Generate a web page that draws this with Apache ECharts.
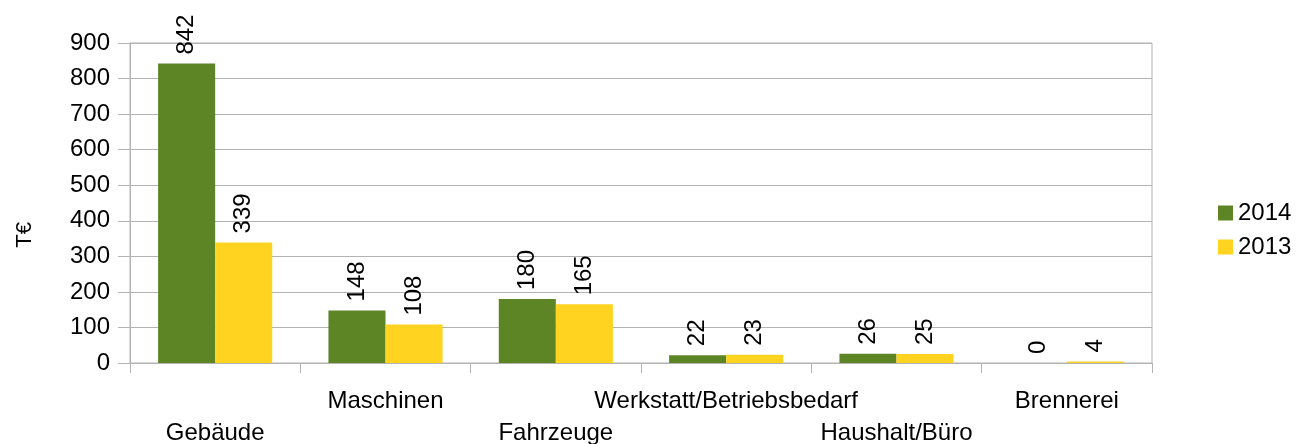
<!DOCTYPE html>
<html><head><meta charset="utf-8">
<script src="https://cdn.jsdelivr.net/npm/echarts@6/dist/echarts.min.js"></script>
<style>html,body{margin:0;padding:0;background:#fff}#c{width:1300px;height:444px}</style>
</head><body><div id="c"></div>
<script>
const categories = ["Gebäude","Maschinen","Fahrzeuge","Werkstatt/Betriebsbedarf","Haushalt/Büro","Brennerei"];
const values2014 = [842,148,180,22,26,0];
const values2013 = [339,108,165,23,25,4];
const yTicks = [0,100,200,300,400,500,600,700,800,900];

const FONT = "Liberation Sans";
const chart = echarts.init(document.getElementById('c'), null, {renderer:'canvas'});
const lbl = {show:true, position:'top', rotate:90, align:'left', verticalAlign:'middle', distance:9,
  fontFamily:FONT, fontSize:24, color:'#000'};
chart.setOption({
  animation:false,
  textStyle:{fontFamily:FONT},
  grid:{left:130, right:148, top:43, bottom:81, outerBoundsMode:'none', containLabel:false,
    show:true, borderColor:'#b3b3b3', borderWidth:1},
  legend:{orient:'vertical', left:1213, top:196, itemWidth:15, itemHeight:15, itemGap:10,
    icon:'rect', textStyle:{fontFamily:FONT, fontSize:24, color:'#000'}, data:['2014','2013']},
  xAxis:{type:'category', data:categories,
    axisLine:{lineStyle:{color:'#b3b3b3'}},
    axisTick:{show:true, length:10, lineStyle:{color:'#b3b3b3'}},
    axisLabel:{interval:0, margin:22, fontFamily:FONT, fontSize:24, color:'#000', lineHeight:32,
      formatter:(v,i)=> i%2===0 ? '\n'+v : v}},
  yAxis:{type:'value', min:yTicks[0], max:yTicks[yTicks.length-1], interval:100,
    axisLine:{show:true, lineStyle:{color:'#b3b3b3'}},
    axisTick:{show:true, length:12, lineStyle:{color:'#b3b3b3'}},
    splitLine:{lineStyle:{color:'#b3b3b3'}},
    axisLabel:{margin:20, fontFamily:FONT, fontSize:24, color:'#000'}},
  graphic:[{type:'text', left:14, top:222, rotation:Math.PI/2,
    style:{text:'T€', font:'22px "Liberation Sans"', fill:'#000'}}],
  series:[
    {name:'2014', type:'bar', data:values2014, barGap:'0%', barCategoryGap:'33%',
      itemStyle:{color:'#5d8526'}, label:lbl},
    {name:'2013', type:'bar', data:values2013, barGap:'0%', barCategoryGap:'33%',
      itemStyle:{color:'#ffd320'}, label:lbl}
  ]
});
</script></body></html>
